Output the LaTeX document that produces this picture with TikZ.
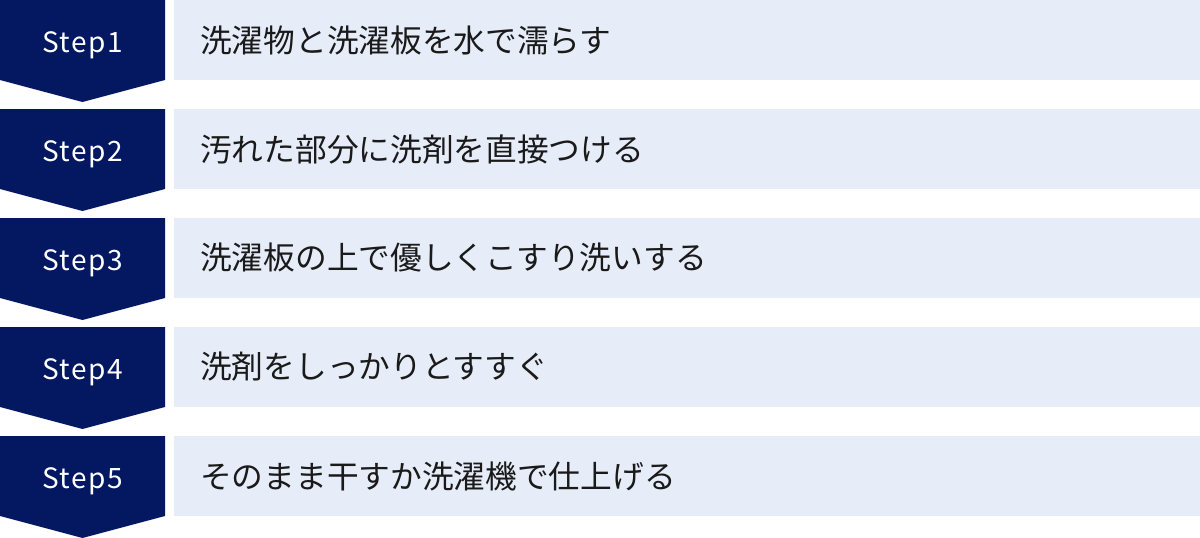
\documentclass[tikz,border=0pt]{standalone}
\usepackage{fontspec}
\newfontfamily\jp{Noto Sans CJK JP}
\newfontfamily\stepfont[LetterSpace=5]{Noto Sans CJK JP}
\definecolor{navy}{RGB}{4,24,98}
\definecolor{lightbg}{RGB}{230,236,248}
\definecolor{txt}{RGB}{26,26,26}
\tikzset{
  stepshape/.style={fill=navy,draw=none},
  barshape/.style={fill=lightbg,draw=none},
  steplabel/.style={text=white,font=\stepfont\fontsize{28}{28}\selectfont,inner sep=0pt,anchor=base},
  desclabel/.style={text=txt,font=\jp\fontsize{31.7}{31.7}\selectfont,inner sep=0pt,anchor=west}
}
\begin{document}
\begin{tikzpicture}[x=1pt,y=-1pt]
\useasboundingbox (0,0) rectangle (1200,538);
\foreach \i/\t [count=\n] in {0/{洗濯物と洗濯板を水で濡らす},109/{汚れた部分に洗剤を直接つける},218/{洗濯板の上で優しくこすり洗いする},327/{洗剤をしっかりとすすぐ},436/{そのまま干すか洗濯機で仕上げる}}{
  \fill[stepshape] (0,\i) -- (165,\i) -- (165,\i+80) -- (82.5,\i+102) -- (0,\i+80) -- cycle;
  \fill[barshape] (174,\i) rectangle (1200,\i+80);
  \node[steplabel] (step\n) at (82.5,\i+52) {Step\n};
  \node[desclabel] (desc\n) at (200,\i+40) {\t};
}
\end{tikzpicture}
\end{document}
